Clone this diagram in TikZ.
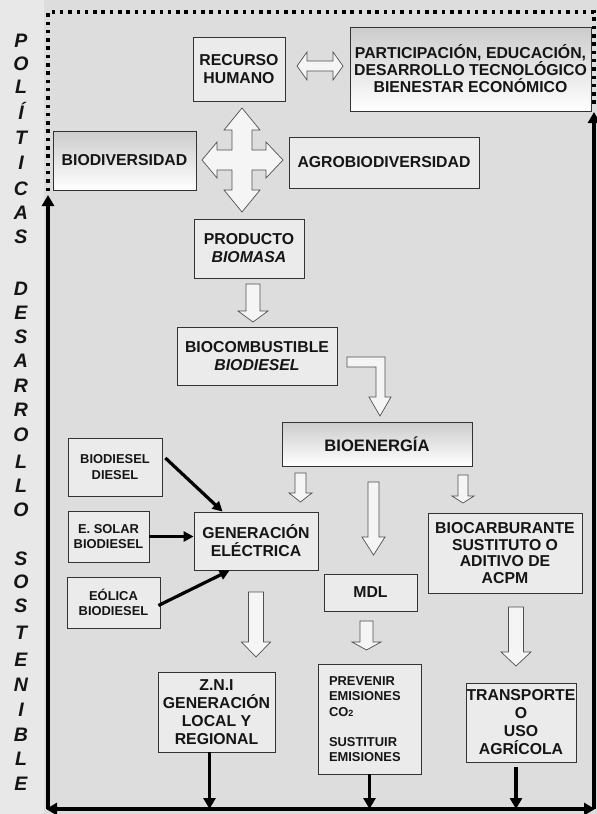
\documentclass[tikz,border=0pt]{standalone}
\usepackage{fontspec}
\setmainfont{Liberation Sans}
\usetikzlibrary{arrows.meta,calc}
\definecolor{bg}{HTML}{DDDDDD}
\definecolor{sidebg}{HTML}{E8E8E8}
\definecolor{boxfill}{HTML}{EBEBEB}
\definecolor{boxline}{HTML}{333333}
\definecolor{txt}{HTML}{151515}
\definecolor{harrow}{HTML}{505050}
\newcommand\hollowdn[6]{%
  \draw[hollow] ({#1-#5},#2) -- ({#1+#5},#2) -- ({#1+#5},#3) -- ({#1+#6},#3) -- (#1,#4) -- ({#1-#6},#3) -- ({#1-#5},#3) -- cycle;}
\begin{document}
\begin{tikzpicture}[x=1pt,y=-1pt,
 box/.style={draw=boxline,line width=0.8pt,fill=boxfill,align=center,inner sep=0pt,text=txt,font=\bfseries\fontsize{15.8}{18}\selectfont},
 gbox/.style={box,top color=gray!40,bottom color=white},
 sbox/.style={box,font=\bfseries\fontsize{12.9}{15.5}\selectfont},
 hollow/.style={draw=harrow,line width=0.7pt,fill=white!92!gray,line join=miter},
 blk/.style={line width=3.8pt,-{Triangle[length=11pt,width=12pt]}},
 blks/.style={line width=3.2pt,-{Triangle[length=10pt,width=10pt]}},
 dots/.style={line width=3.5pt,dash pattern=on 3.5pt off 4.8pt},
 sidel/.style={font=\bfseries\itshape\fontsize{19.5}{19.5}\selectfont,text=txt,inner sep=0pt,anchor=base}
]
\fill[bg] (0,0) rectangle (597,814);
\fill[sidebg] (0,0) rectangle (44,814);
\useasboundingbox (0,0) rectangle (597,814);

% side text
\foreach \l/\yy in {P/40,O/63,L/86,Í/112,T/137,I/162,C/188,A/212,S/236,D/288,E/312,S/336,A/360,R/385,R/409,O/434,L/461,L/485,O/509,S/558,O/581,S/605,T/632,E/659,N/684,I/709,B/734,L/758,E/783}
  \node[sidel] (side\yy) at (21,\yy+7) {\l};

% frame coordinates
\coordinate (bl) at (46,809);
\coordinate (br) at (595,809);
\coordinate (lb) at (48,809);
\coordinate (lt) at (48,195);
\coordinate (rb) at (594,809);
\coordinate (rt) at (594,112);
\coordinate (dl) at (48,191);
\coordinate (tl) at (48,12);
\coordinate (tr) at (594,12);
\coordinate (dr) at (594,108);

\draw[dots] (dl) -- (tl) -- (tr) -- (dr);
\draw[blk] (lb) -- (lt);
\draw[blk] (rb) -- (rt);
\draw[line width=3.8pt,{Triangle[length=11pt,width=12pt]}-{Triangle[length=11pt,width=12pt]}] (bl) -- (br);

% boxes
\node[box,minimum width=92pt,minimum height=64pt] (rh) at (239,69) {RECURSO\\HUMANO};
\node[gbox,minimum width=241pt,minimum height=84pt,font=\bfseries\fontsize{15.8}{17}\selectfont] (part) at (470.5,69) {PARTICIPACIÓN, EDUCACIÓN,\\DESARROLLO TECNOLÓGICO\\BIENESTAR ECONÓMICO};
\node[gbox,minimum width=143pt,minimum height=59pt] (biod) at (124.5,160.5) {BIODIVERSIDAD};
\node[box,minimum width=190pt,minimum height=51pt] (agro) at (384,162.5) {AGROBIODIVERSIDAD};
\node[box,minimum width=110pt,minimum height=59pt] (prod) at (249,248.5) {PRODUCTO\\\textit{BIOMASA}};
\node[box,minimum width=160pt,minimum height=58pt] (bioc) at (257,356) {BIOCOMBUSTIBLE\\\textit{BIODIESEL}};
\node[gbox,minimum width=190pt,minimum height=44pt,font=\bfseries\fontsize{16.6}{18}\selectfont] (bioe) at (377,444) {BIOENERGÍA};
\node[sbox,minimum width=94pt,minimum height=58pt] (bd) at (115,467) {BIODIESEL\\DIESEL};
\node[sbox,minimum width=81pt,minimum height=51pt] (es) at (108.5,536.5) {E. SOLAR\\BIODIESEL};
\node[sbox,minimum width=93pt,minimum height=51pt] (eo) at (113.5,602.5) {EÓLICA\\BIODIESEL};
\node[box,minimum width=124pt,minimum height=58pt] (gen) at (256,541) {GENERACIÓN\\ELÉCTRICA};
\node[box,minimum width=93pt,minimum height=37pt] (mdl) at (370.5,592.5) {MDL};
\node[box,minimum width=154pt,minimum height=80pt,font=\bfseries\fontsize{15.8}{16.5}\selectfont] (biocarb) at (505,553) {BIOCARBURANTE\\SUSTITUTO O\\ADITIVO DE\\ACPM};
\node[box,minimum width=117pt,minimum height=80pt] (zni) at (216.5,712) {Z.N.I\\GENERACIÓN\\LOCAL Y\\REGIONAL};
\node[sbox,minimum width=103pt,minimum height=110pt,align=left,text width=81pt] (prev) at (369.5,719) {PREVENIR\\EMISIONES\\CO{\fontsize{9}{9}\selectfont 2}\\[14.5pt]SUSTITUIR\\EMISIONES};
\node[box,minimum width=110pt,minimum height=79pt] (trans) at (521,722.5) {TRANSPORTE\\O\\USO\\AGRÍCOLA};

% hollow arrows
\draw[hollow] (297,66) -- (307,52) -- (307,61) -- (333,61) -- (333,52) -- (343,66) -- (333,80) -- (333,71) -- (307,71) -- (307,80) -- cycle;
\draw[hollow] (242,108) -- (260,130) -- (252,130) -- (252,150) -- (266,150) -- (266,142) -- (283,160) -- (266,178) -- (266,170) -- (252,170) -- (252,190) -- (260,190) -- (242,212) -- (224,190) -- (232,190) -- (232,170) -- (217,170) -- (217,178) -- (202,160) -- (217,142) -- (217,150) -- (232,150) -- (232,130) -- (224,130) -- cycle;
\draw[hollow] (347,357) -- (385,357) -- (385,397) -- (391,397) -- (380,416) -- (369,397) -- (376,397) -- (376,367) -- (347,367) -- cycle;
\hollowdn{253}{284}{311}{322}{7}{15}
\hollowdn{300.5}{473}{493}{502}{5.5}{11.5}
\hollowdn{373.5}{482}{537}{555}{5.5}{11.5}
\hollowdn{463}{475}{496}{503}{5}{11}
\hollowdn{256}{592}{642}{657}{7.5}{14.5}
\hollowdn{366.5}{621}{642}{650}{6.5}{14.5}
\hollowdn{516}{607}{652}{666}{7.5}{15}

% black arrows into generation
\draw[blks] ($(bd.east)+(3,-9)$) -- ($(gen.north west)+(29,0)$);
\draw[blks] (es.east) -- (es.east -| gen.west);
\draw[blks] ($(eo.east)+(-2,3)$) -- ($(gen.south west)+(36,0)$);

% black arrows to bottom line
\coordinate (zniout) at ([xshift=-7pt]zni.south);
\coordinate (transout) at ([xshift=-5pt,yshift=-5pt]trans.south);
\draw[blk] (zniout) -- (zniout |- bl);
\draw[blk] (prev.south) -- (prev.south |- bl);
\draw[blk] (transout) -- (transout |- bl);
\end{tikzpicture}
\end{document}
